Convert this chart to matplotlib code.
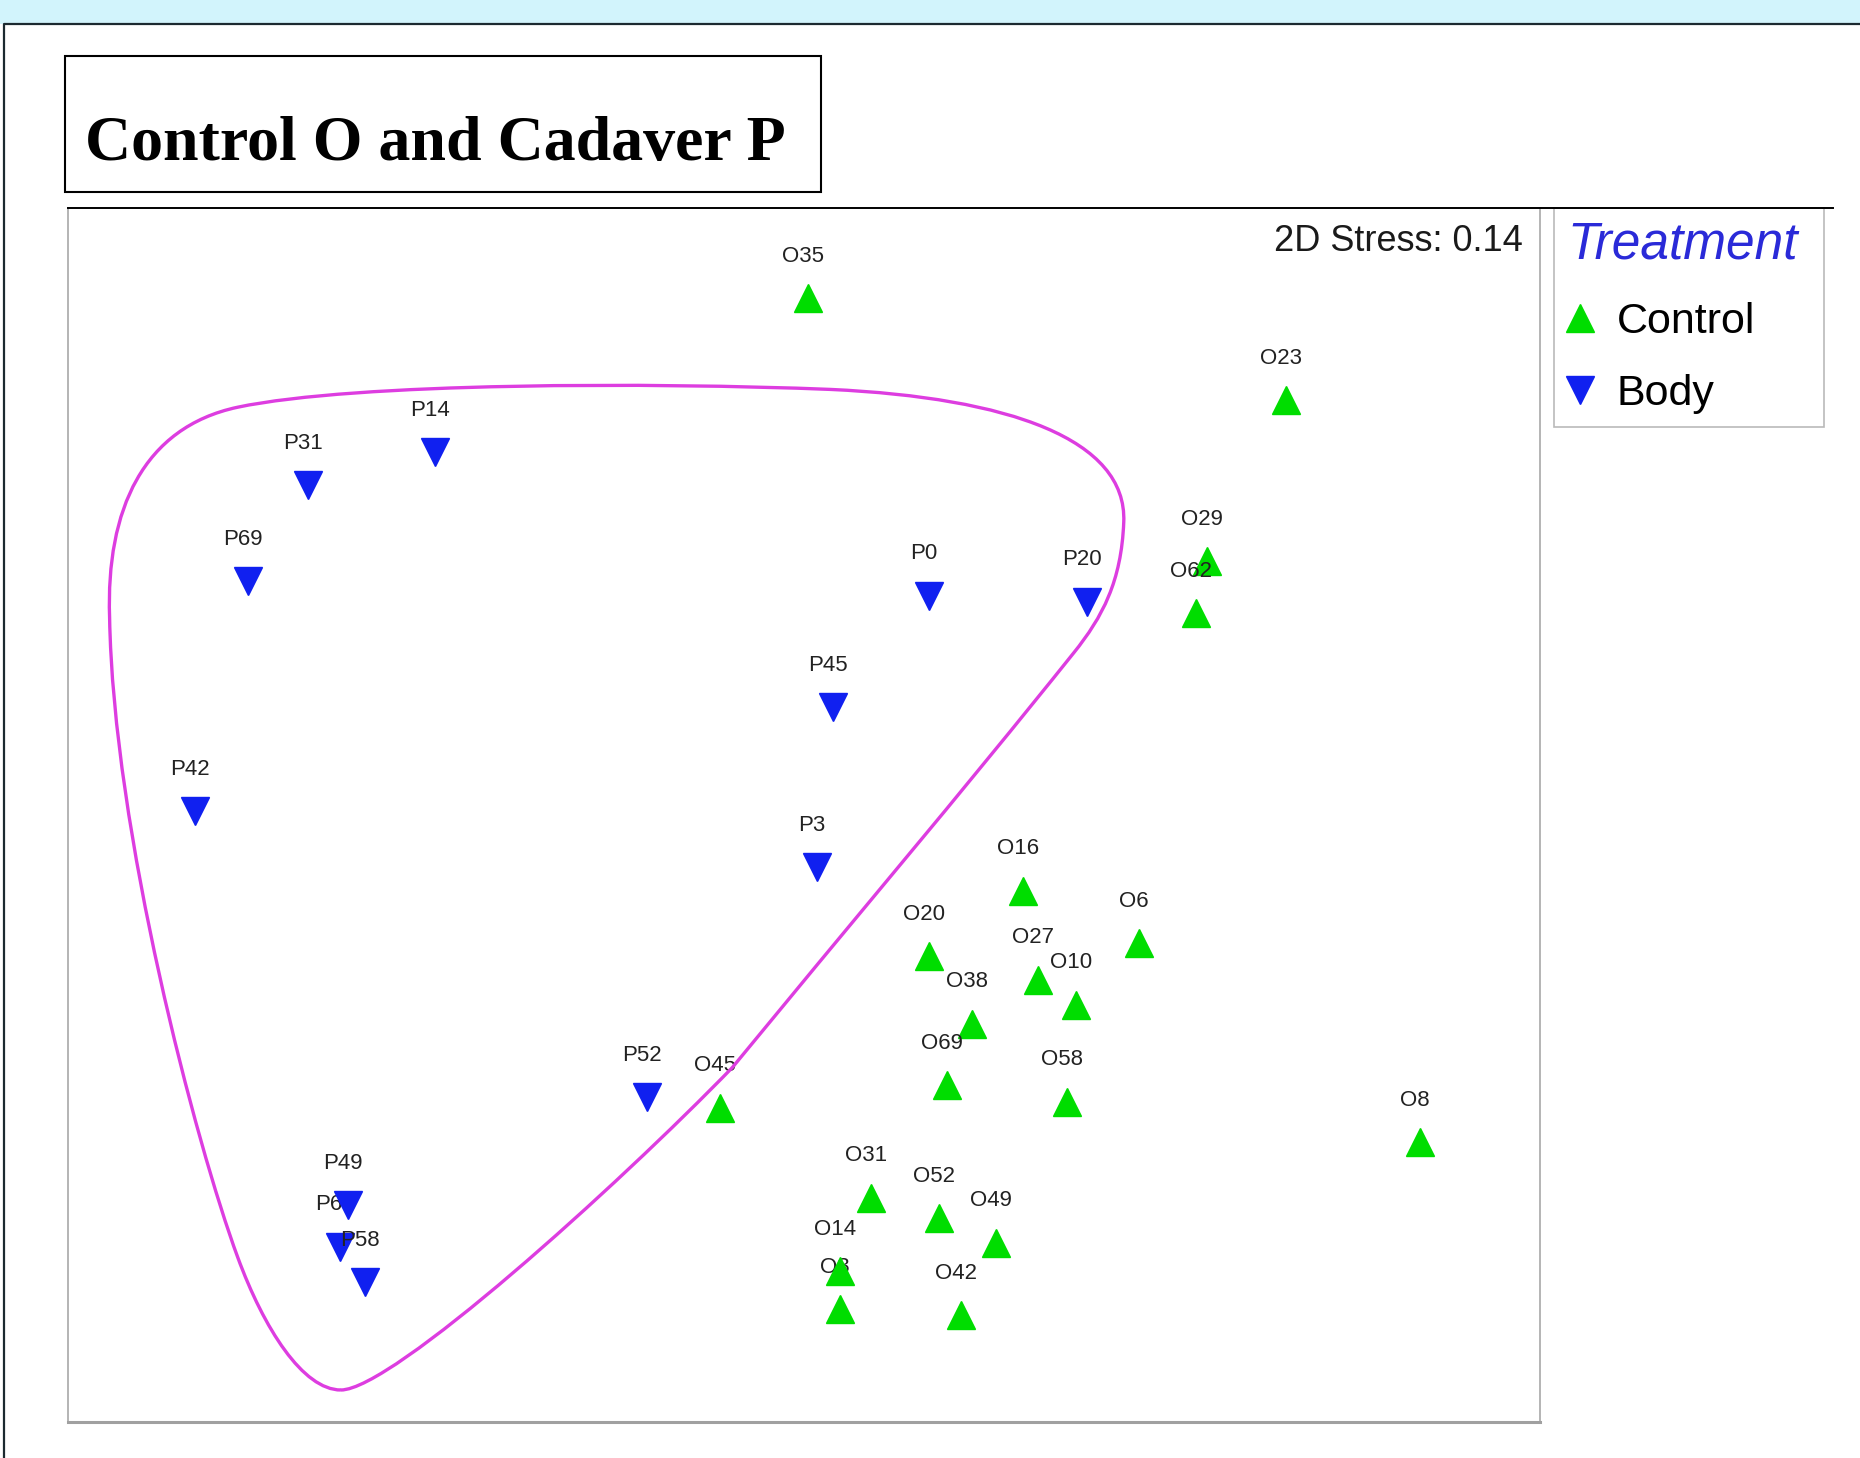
import matplotlib.pyplot as plt
from matplotlib.patches import Rectangle, PathPatch
from matplotlib.path import Path
from matplotlib.lines import Line2D

# nMDS coordinates
ctrl_names = ['O35', 'O23', 'O29', 'O62', 'O16', 'O6', 'O20', 'O27', 'O10', 'O38',
              'O69', 'O58', 'O45', 'O8', 'O31', 'O52', 'O49', 'O3', 'O14', 'O42']
ctrl_x = [0.012, 1.624, 1.356, 1.320, 0.736, 1.128, 0.420, 0.788, 0.916, 0.564,
          0.480, 0.884, -0.284, 2.076, 0.224, 0.452, 0.644, 0.120, 0.120, 0.528]
ctrl_y = [1.744, 1.400, 0.856, 0.680, -0.256, -0.432, -0.476, -0.556, -0.640, -0.704,
          -0.912, -0.968, -0.988, -1.104, -1.292, -1.360, -1.444, -1.668, -1.540, -1.688]

body_names = ['P14', 'P31', 'P69', 'P0', 'P20', 'P45', 'P42', 'P3', 'P52', 'P62', 'P58', 'P49']
body_x = [-1.248, -1.676, -1.876, 0.420, 0.952, 0.096, -2.056, 0.040, -0.532, -1.568, -1.484, -1.540]
body_y = [1.224, 1.112, 0.788, 0.740, 0.720, 0.364, 0.012, -0.176, -0.952, -1.456, -1.576, -1.316]

# hand drawn group outline (bezier control points)
hull_x = [-1.564, -1.692, -1.824, -1.912, -2.052, -2.332, -2.344, -2.356, -2.232, -1.912,
          -1.512, -0.512, 0.088, 0.688, 1.088, 1.076, 1.068, 1.004, 0.908, 0.524, 0.140,
          -0.244, -0.632, -1.392, -1.564]
hull_y = [-1.940, -1.940, -1.732, -1.492, -1.112, -0.052, 0.668, 1.028, 1.308, 1.376,
          1.460, 1.460, 1.436, 1.408, 1.268, 0.988, 0.788, 0.668, 0.548, 0.068, -0.384,
          -0.852, -1.252, -1.940, -1.940]

green = '#00dd00'
blue = '#1020f0'
plt.rcParams['font.family'] = ['Liberation Sans', 'DejaVu Sans']

fig = plt.figure(figsize=(18.6, 14.58), dpi=100)

# light blue band and outer frame
fig.add_artist(Rectangle((0, 0.9835), 1, 0.02, transform=fig.transFigure, color='#d2f4fc', lw=0))
fig.add_artist(Line2D([0.0022, 0.0022, 1.0], [0.0, 0.9835, 0.9835], transform=fig.transFigure,
                      color='#1c2a30', lw=1.6))

ax = fig.add_axes([0.0366, 0.0247, 0.7914, 0.8326])
ax.set_xlim(-2.484, 2.480)
ax.set_ylim(-2.048, 2.048)
ax.set_xticks([])
ax.set_yticks([])
for s in ['left', 'right']:
    ax.spines[s].set_color('#a8a8a8')
    ax.spines[s].set_linewidth(1.2)
ax.spines['bottom'].set_color('#a0a0a0')
ax.spines['bottom'].set_linewidth(2.2)
ax.spines['top'].set_visible(False)

# top rule over plot and legend
fig.add_artist(Line2D([0.0366, 0.9853], [0.8573, 0.8573], transform=fig.transFigure,
                      color='black', lw=1.4))

verts = list(zip(hull_x, hull_y))
codes = [Path.MOVETO] + [Path.CURVE4] * (len(verts) - 1)
ax.add_patch(PathPatch(Path(verts, codes), fill=False, edgecolor='#dd3de0', lw=2.4, zorder=50))

z = 2
handles = []
for names, xs, ys, mk, col, lab in [(ctrl_names, ctrl_x, ctrl_y, '^', green, 'Control'),
                                     (body_names, body_x, body_y, 'v', blue, 'Body')]:
    for i in range(len(names)):
        ln, = ax.plot(xs[i], ys[i], marker=mk, ms=20, color=col, ls='none', zorder=z,
                      label=lab if i == 0 else None)
        ax.annotate(names[i], (xs[i], ys[i]), xytext=(-5, 42), textcoords='offset pixels',
                    ha='center', va='center', fontsize=16, color='#222222', zorder=z + 1)
        if i == 0:
            handles.append(ln)
        z += 2

ax.text(0.9885, 0.9728, '2D Stress: 0.14', transform=ax.transAxes, ha='right', va='center',
        fontsize=26, color='#1a1a1a')

leg = ax.legend(handles=handles, loc='upper left', bbox_to_anchor=(0.8355, 0.7071, 0.1452, 0.1502),
                bbox_transform=fig.transFigure, mode='expand', fontsize=31, title='Treatment',
                title_fontproperties={'size': 37, 'style': 'italic'}, alignment='left',
                fancybox=False, edgecolor='#a8a8a8', borderaxespad=0, borderpad=0.3,
                handlelength=0.6, handletextpad=0.55, labelspacing=0.74, numpoints=1)
leg.get_title().set_color('#2a2ad8')
leg.get_frame().set_linewidth(1.2)

# title box
fig.add_artist(Rectangle((0.0349, 0.8683), 0.4065, 0.0933, transform=fig.transFigure,
                         fill=False, edgecolor='black', lw=1.5))
fig.text(0.0457, 0.8903, 'Control O and Cadaver P', fontsize=46, fontweight='bold',
         family='Liberation Serif', ha='left', va='baseline')

fig.savefig('out.png', dpi=100)
